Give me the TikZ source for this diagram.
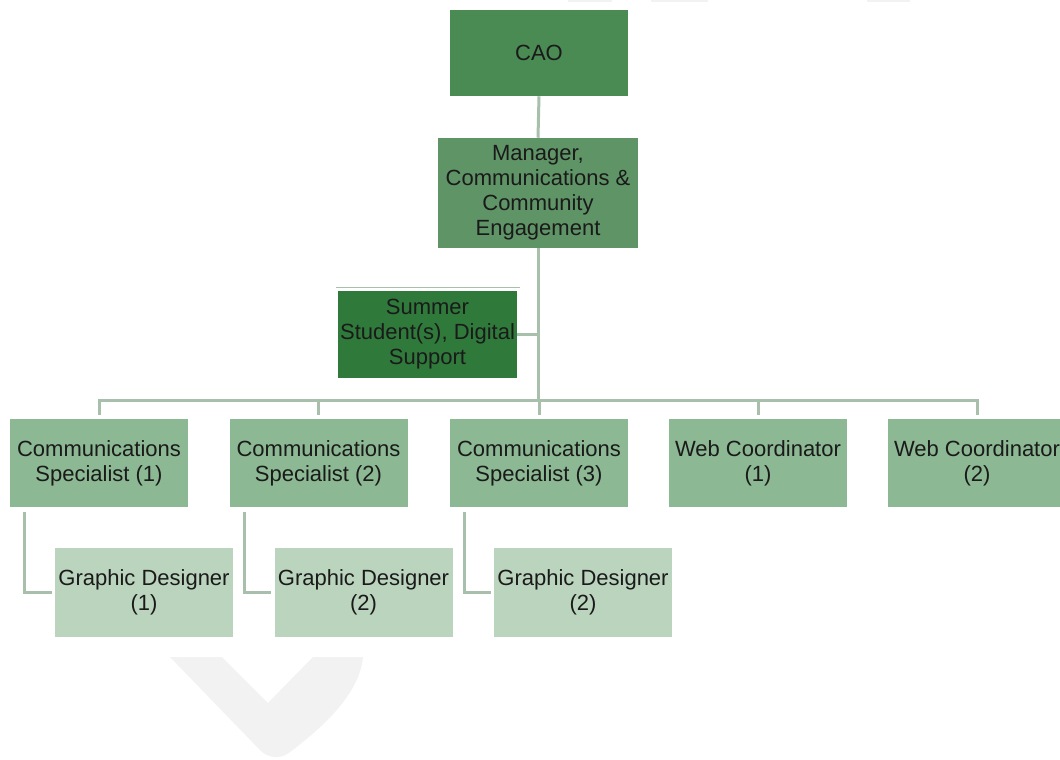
\documentclass[tikz,border=0pt]{standalone}
\usepackage{fontspec}
\setmainfont{Liberation Sans}
\usetikzlibrary{calc}
\definecolor{caoc}{HTML}{4A8A53}
\definecolor{mgrc}{HTML}{5F9466}
\definecolor{sumc}{HTML}{2F7A3B}
\definecolor{rowc}{HTML}{8CB893}
\definecolor{gdc}{HTML}{BAD4BD}
\definecolor{linec}{HTML}{A8C0AB}
\definecolor{txtc}{HTML}{1A1A1A}
\definecolor{faint}{HTML}{F2F2F2}
\tikzset{
  box/.style={draw=none, inner sep=0pt, align=center, text=txtc,
    font=\fontsize{16.5}{18.75}\selectfont},
  toprow/.style={box, fill=rowc, minimum width=133.5pt, minimum height=66pt},
  gdbox/.style={box, fill=gdc, minimum width=133.5pt, minimum height=66.75pt},
  conn/.style={draw=linec, line width=2.25pt},
}
\begin{document}
\begin{tikzpicture}[x=0.75pt,y=-0.75pt]
\useasboundingbox (0,0) rectangle (1060,760);
\fill[white] (0,0) rectangle (1060,760);
% faint background marks
\fill[faint] (568,0) rectangle (612,2);
\fill[faint] (651,0) rectangle (708,2);
\fill[faint] (867,0) rectangle (910,2);
\fill[faint] (170,657) -- (222,657) -- (268,703) -- (313,657) -- (363,657)
  .. controls (360,690) and (330,722) .. (290,752)
  .. controls (280,760) and (268,758) .. (260,750) -- cycle;

% nodes
\node[box, fill=caoc, minimum width=133.5pt, minimum height=64.5pt] (cao) at (539,53) {CAO};
\node[box, fill=mgrc, minimum width=150pt, minimum height=82.5pt] (mgr) at (538,193)
  {Manager,\\Communications \&\\Community\\Engagement};
\node[box, fill=sumc, minimum width=134.25pt, minimum height=65.25pt] (sum) at (427.5,334.5)
  {Summer\\Student(s), Digital\\Support};
\draw[draw=linec, line width=0.75pt] (336,287) -- (520,287);

\node[toprow] (c1) at (99,463) {Communications\\Specialist (1)};
\node[toprow] (c2) at (318.5,463) {Communications\\Specialist (2)};
\node[toprow] (c3) at (539,463) {Communications\\Specialist (3)};
\node[toprow] (w1) at (758,463) {Web Coordinator\\(1)};
\node[toprow] (w2) at (977,463) {Web Coordinator\\(2)};

\node[gdbox] (g1) at (144,592.5) {Graphic Designer\\(1)};
\node[gdbox] (g2) at (363.5,592.5) {Graphic Designer\\(2)};
\node[gdbox] (g3) at (583,592.5) {Graphic Designer\\(2)};

% connectors
\coordinate (bus) at (538,400);
\draw[conn] (cao.south) -- (mgr.north);
\draw[conn] (mgr.south) -- (bus);
\draw[conn] (sum.east) -- (sum.east -| mgr.south);
\foreach \n in {c1,c2,c3,w1,w2}{
  \draw[conn] (bus) -| ($(\n.north)+(0,-4)$);
}
\draw[conn] ($(c1.south west)+(15,5)$) |- ($(g1.west)+(-3,0)$);
\draw[conn] ($(c2.south west)+(15,5)$) |- ($(g2.west)+(-3,0)$);
\draw[conn] ($(c3.south west)+(15,5)$) |- ($(g3.west)+(-3,0)$);
\end{tikzpicture}
\end{document}
